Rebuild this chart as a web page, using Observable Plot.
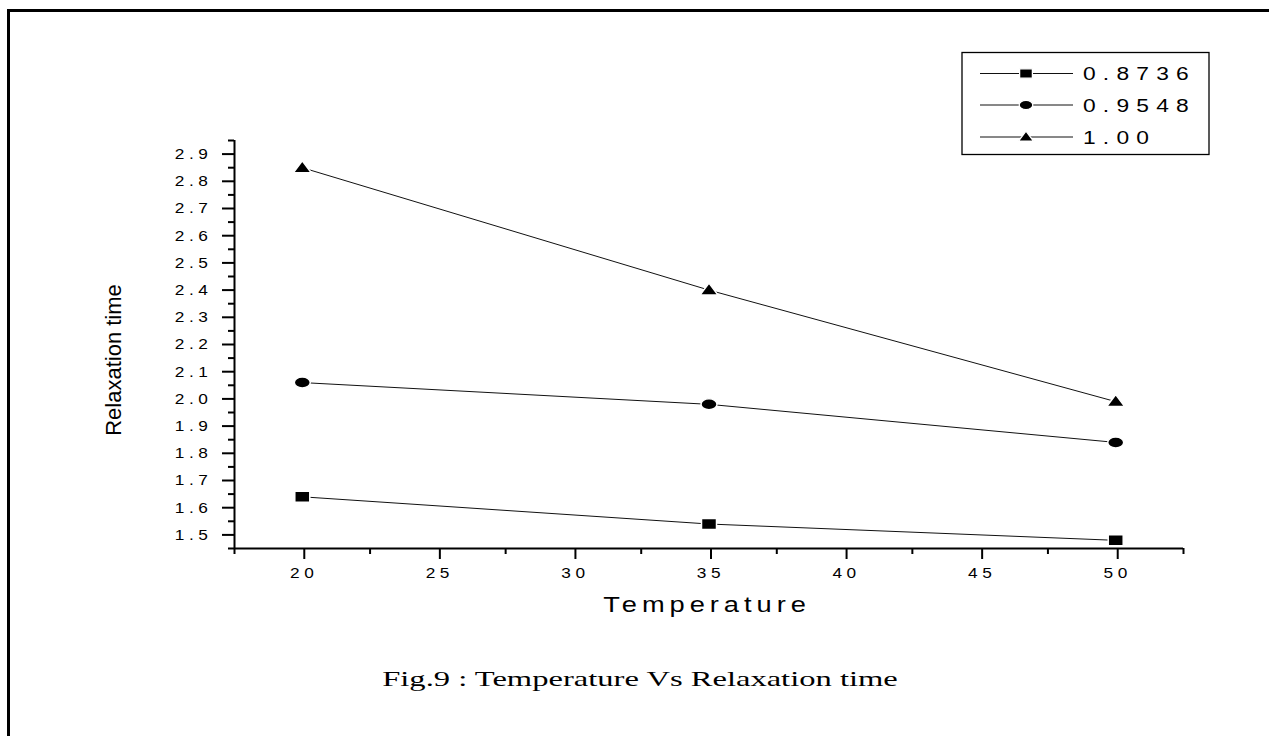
<!DOCTYPE html>
<html>
<head>
<meta charset="utf-8">
<script src="https://cdn.jsdelivr.net/npm/d3@7"></script>
<script src="https://cdn.jsdelivr.net/npm/@observablehq/plot@0.6"></script>
<style>
html, body { margin: 0; padding: 0; background: #fff; overflow: hidden; width: 1269px; height: 736px; }
#wrap { position: relative; width: 1269px; height: 736px; overflow: hidden; }
#border { position: absolute; left: 7px; top: 9px; width: 1400px; height: 900px; border-left: 3px solid #000; border-top: 3px solid #000; box-sizing: border-box; }
#chart { position: absolute; left: 0; top: 0; }
#legend { position: absolute; left: 0; top: 0; }
#caption { position: absolute; left: 0; width: 1280px; top: 666px; text-align: center;
  font-family: "Liberation Serif", "Times New Roman", serif; font-size: 22px; color: #000;
  transform: scaleX(1.48); transform-origin: 640px 0; }
g[aria-label="y-axis tick label"] text, g[aria-label="x-axis tick label"] text { letter-spacing: 4px; }
</style>
</head>
<body>
<div id="wrap">
  <div id="border"></div>
  <div id="chart"></div>
  <svg id="legend" width="1269" height="736"></svg>
  <div id="caption">Fig.9 : Temperature Vs Relaxation time</div>
</div>
<script>
// ---- data ----
const temperature = [20, 35, 50];
const seriesNames = ["0.8736", "0.9548", "1.00"];
const tau_0_8736 = [1.64, 1.54, 1.48];
const tau_0_9548 = [2.06, 1.98, 1.84];
const tau_1_00 = [2.85, 2.40, 1.99];
const xTickValues = [20, 25, 30, 35, 40, 45, 50];
const xMinorTicks = [17.5, 22.5, 27.5, 32.5, 37.5, 42.5, 47.5, 52.5];
const yTickValues = [1.5, 1.6, 1.7, 1.8, 1.9, 2.0, 2.1, 2.2, 2.3, 2.4, 2.5, 2.6, 2.7, 2.8, 2.9];
const yMinorTicks = [1.45, 1.55, 1.65, 1.75, 1.85, 1.95, 2.05, 2.15, 2.25, 2.35, 2.45, 2.55, 2.65, 2.75, 2.85, 2.95];
const xLabel = "Temperature";
const yLabel = "Relaxation time";

const seriesValues = [tau_0_8736, tau_0_9548, tau_1_00];
const rows = seriesNames.flatMap((s, i) => temperature.map((t, j) => ({series: s, t, tau: seriesValues[i][j]})));

// ---- symbols (stretched, like the original export) ----
const square = {draw(c) { c.moveTo(-7.5, -5.5); c.lineTo(7.5, -5.5); c.lineTo(7.5, 5.5); c.lineTo(-7.5, 5.5); c.closePath(); }};
const ellipse = {draw(c) {
  const a = 8, b = 5.5, k = 0.5523;
  c.moveTo(a, 0);
  c.bezierCurveTo(a, b * k, a * k, b, 0, b);
  c.bezierCurveTo(-a * k, b, -a, b * k, -a, 0);
  c.bezierCurveTo(-a, -b * k, -a * k, -b, 0, -b);
  c.bezierCurveTo(a * k, -b, a, -b * k, a, 0);
  c.closePath();
}};
const triangle = {draw(c) { c.moveTo(0, -7); c.lineTo(9, 5); c.lineTo(-9, 5); c.closePath(); }};
const symbols = [square, ellipse, triangle];

const marks = [
  Plot.ruleX([17.5], {stroke: "#000", strokeWidth: 2}),
  Plot.ruleY([1.45], {stroke: "#000", strokeWidth: 2}),
  Plot.axisY(yMinorTicks, {tickSize: 6, strokeWidth: 2, label: null, tickFormat: () => ""}),
  Plot.axisY(yTickValues, {tickSize: 12, strokeWidth: 2, tickPadding: 10, fontSize: 15, label: null, tickFormat: d3.format(".1f")}),
  Plot.axisX(xMinorTicks, {tickSize: 6, strokeWidth: 2, label: null, tickFormat: () => ""}),
  Plot.axisX(xTickValues, {tickSize: 11, strokeWidth: 2, tickPadding: 8, fontSize: 15, dx: 2, label: null, tickFormat: d => String(d)}),
  Plot.lineY(rows, {x: "t", y: "tau", z: "series", stroke: "#111", strokeWidth: 1})
];
seriesNames.forEach((s, i) => {
  marks.push(Plot.dot(rows.filter(d => d.series === s), {x: "t", y: "tau", symbol: symbols[i], r: 5, fill: "#000", stroke: "#fff", strokeWidth: 1.5}));
});

const chart = Plot.plot({
  width: 1269,
  height: 736,
  marginLeft: 234,
  marginRight: 86,
  marginTop: 140,
  marginBottom: 188,
  style: {fontFamily: "'Liberation Sans', Arial, sans-serif", fontSize: "15px", color: "#000", background: "transparent"},
  x: {domain: [17.5, 52.5], axis: null},
  y: {domain: [1.45, 2.95], axis: null},
  marks
});
document.getElementById("chart").appendChild(chart);

// horizontally stretch tick-label glyphs (the original export is stretched)
chart.querySelectorAll('g[aria-label="y-axis tick label"] text, g[aria-label="x-axis tick label"] text')
  .forEach(el => {
    const w = el.getComputedTextLength();
    if (w > 0) {
      el.setAttribute("textLength", (w * 1.15).toFixed(1));
      el.setAttribute("lengthAdjust", "spacingAndGlyphs");
    }
  });

function stretch(el, sx) {
  const x = +(el.getAttribute("x") || 0), y = +(el.getAttribute("y") || 0);
  el.setAttribute("transform", `translate(${x},${y}) scale(${sx},1) translate(${-x},${-y})`);
}

// ---- axis titles, legend ----
const svg = d3.select("#legend");
const xt = svg.append("text")
  .attr("x", 707).attr("y", 612)
  .attr("text-anchor", "middle")
  .attr("font-family", "'Liberation Sans', Arial, sans-serif")
  .attr("font-size", 22)
  .style("letter-spacing", "4px")
  .text(xLabel);
stretch(xt.node(), 1.24);
svg.append("text")
  .attr("transform", "translate(121,360) rotate(-90)")
  .attr("text-anchor", "middle")
  .attr("font-family", "'Liberation Sans', Arial, sans-serif")
  .attr("font-size", 22)
  .text(yLabel);

svg.append("rect").attr("x", 962).attr("y", 52.5).attr("width", 247).attr("height", 102)
  .attr("fill", "#fff").attr("stroke", "#000").attr("stroke-width", 1.3);
const rowY = [73.5, 105, 137];
seriesNames.forEach((s, i) => {
  const g = svg.append("g");
  g.append("line").attr("x1", 980).attr("x2", 1073).attr("y1", rowY[i]).attr("y2", rowY[i]).attr("stroke", "#111").attr("stroke-width", 1);
  const p = d3.path();
  symbols[i].draw(p);
  g.append("path").attr("d", p.toString()).attr("transform", `translate(1026,${rowY[i]}) scale(0.85)`)
    .attr("fill", "#000").attr("stroke", "#fff").attr("stroke-width", 1.5);
  const tx = g.append("text").attr("x", 1083).attr("y", rowY[i] + 7)
    .attr("font-family", "'Liberation Sans', Arial, sans-serif")
    .attr("font-size", 19)
    .style("letter-spacing", "6px")
    .text(s);
  stretch(tx.node(), 1.2);
});
</script>
</body>
</html>
